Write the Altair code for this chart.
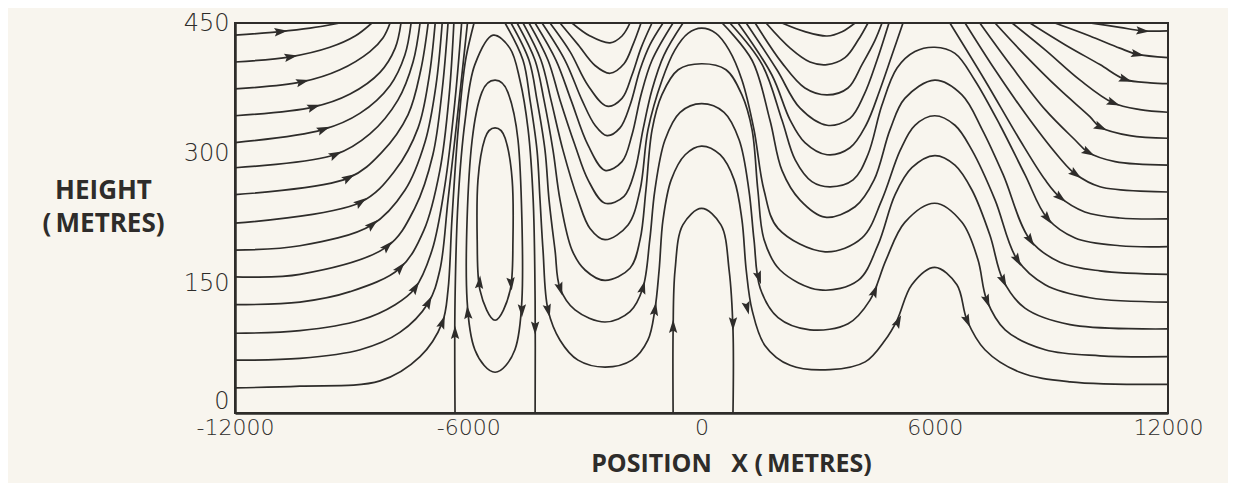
import altair as alt
import pandas as pd

# ---------------- streamlines (x in metres, height in metres) ----------------
# lines entering from the left edge and leaving through the top
L1 = [(-12000,436),(-10840,440),(-10070,444),(-9300,450)]
L2 = [(-12000,405),(-10580,411),(-9560,422),(-8910,435),(-8480,450)]
L3 = [(-12000,374),(-10280,382),(-9300,396),(-8530,417),(-8190,433),(-8010,450)]
L4 = [(-12000,343),(-9990,353),(-9040,368),(-8270,393),(-7880,421),(-7730,450)]
L5 = [(-12000,312),(-9740,327),(-8780,346),(-8010,378),(-7630,413),(-7470,450)]
L6 = [(-12000,283),(-9430,298),(-8530,322),(-7810,361),(-7420,405),(-7240,450)]
L7 = [(-12000,252),(-9090,271),(-8220,301),(-7550,344),(-7220,396),(-7030,450)]
L8 = [(-12000,219),(-8780,243),(-7880,280),(-7290,329),(-7010,387),(-6850,450)]
L9 = [(-12000,188),(-10330,193),(-8480,217),(-7630,257),(-7110,313),(-6830,378),(-6670,450)]
L10 = [(-12000,157),(-10330,160),(-8090,192),(-7370,237),(-6910,298),(-6670,373),(-6520,450)]
L11 = [(-12000,125),(-10330,128),(-9040,140),(-7760,167),(-7140,211),(-6730,280),(-6490,367),(-6370,450)]
L12 = [(-12000,92),(-10330,95),(-8780,107),(-7880,125),(-7370,144),(-6930,188),(-6600,263),(-6340,361),(-6170,450)]
L13 = [(-12000,61),(-10330,63),(-8780,73),(-7760,93),(-7030,127),(-6730,165),(-6520,246),(-6260,350),(-6020,450)]
L14 = [(-12000,29),(-10330,31),(-8270,37),(-7240,65),(-6670,104),(-6520,142),(-6420,223),(-6260,327),(-6070,407),(-5850,450)]

# dividing streamlines that meet the ground
SEP_A = [(-6340,0),(-6340,130),(-6260,246),(-6080,338),(-5830,402),(-5360,436),(-4930,421),(-4670,384),(-4460,327),(-4330,246),(-4280,130),(-4280,0)]
SEP_B = [(-730,0),(-730,96),(-680,165),(-480,217),(0,236),(500,217),(710,165),(810,96),(810,0)]

# closed loops of the cell near x = -5300
LOOP1 = [(-5310,329),(-5050,317),(-4870,269),(-4850,200),(-4920,142),(-5310,107),(-5700,142),(-5770,200),(-5750,269),(-5570,317)]
LOOP2 = [(-5310,384),(-4980,370),(-4720,315),(-4620,223),(-4620,130),(-4800,73),(-5310,47),(-5830,73),(-6030,130),(-6030,223),(-5900,315),(-5650,370)]

# troughs near x = -2400 (in and out through the top)
U1 = [(-3331,450),(-2868,435),(-2353,427),(-2045,435),(-1839,450)]
U2 = [(-3639,450),(-3176,425),(-2739,401),(-2353,392),(-1993,403),(-1762,425),(-1556,450)]
U3 = [(-3897,450),(-3382,417),(-2919,378),(-2431,354),(-2045,363),(-1788,390),(-1556,421),(-1273,450)]
U4 = [(-4102,450),(-3511,407),(-3074,361),(-2739,332),(-2431,320),(-2096,329),(-1839,355),(-1582,396),(-1325,425),(-990,450)]
U5 = [(-4282,450),(-3742,407),(-3356,361),(-2919,309),(-2482,280),(-2045,290),(-1788,321),(-1556,367),(-1273,407),(-733,450)]
U6 = [(-4437,450),(-3948,407),(-3639,361),(-3254,309),(-2919,269),(-2482,242),(-1993,250),(-1710,280),(-1505,327),(-1273,373),(-965,413),(-476,450)]

# wave lines: top -> trough -> crest at 0 -> trough -> crest at 6000 -> right edge
W1 = [(-5054,450),(-4591,407),(-4411,361),(-4231,303),(-4154,246),(-4077,188),(-3948,119),(-3639,84),(-3176,61),(-2482,53),
      (-1790,61),(-1380,84),(-1200,119),(-1090,165),(-990,223),(-780,269),(-420,298),(0,308),(480,298),(840,269),(1040,223),
      (1150,165),(1300,119),(1630,78),(2280,55),(3310,50),(4210,59),(4720,84),(5030,107),(5410,148),(6000,168),(6570,148),
      (6830,107),(7290,73),(8190,47),(9480,36),(12000,33)]
W2 = [(-4900,450),(-4437,407),(-4231,361),(-4025,303),(-3922,246),(-3768,188),(-3639,144),(-3254,119),(-2482,105),
      (-1840,117),(-1510,144),(-1330,200),(-1200,257),(-940,315),(-550,347),(0,357),(580,347),(970,315),(1220,257),(1350,200),
      (1510,144),(1970,110),(2790,96),(3770,103),(4330,130),(4750,177),(5230,220),(6000,242),(6700,220),(7110,177),(7340,130),
      (7810,96),(8840,73),(10250,66),(12000,65)]
W3 = [(-4745,450),(-4282,407),(-4051,361),(-3819,303),(-3639,246),(-3331,188),(-2996,165),(-2482,153),
      (-1840,167),(-1580,200),(-1430,257),(-1270,327),(-1020,367),(-600,396),(0,403),(630,396),(1040,367),(1300,327),(1450,257),
      (1610,200),(2020,165),(3050,142),(4030,153),(4540,194),(4980,252),(5410,283),(6000,297),(6520,286),(6960,257),(7420,205),
      (7760,153),(8320,121),(9480,102),(12000,97)]
W4 = [(-4591,450),(-4128,407),(-3871,361),(-3562,303),(-3176,246),(-2868,213),(-2482,200),
      (-1890,217),(-1582,257),(-1376,327),(-1016,384),(-682,419),(-347,438),(0,444),(373,438),(707,419),(1042,384),(1350,327),
      (1608,257),(1968,213),(3180,186),(4130,202),(4640,246),(5110,303),(5490,332),(6000,343),(6520,332),(6960,303),(7550,246),
      (8120,177),(8840,148),(9990,133),(12000,128)]

# top -> trough near 3200 -> crest at 6000 -> right edge
V1 = [(530,450),(1300,407),(1760,338),(2070,280),(2530,246),(3180,226),(3950,238),(4440,269),(4850,327),(5230,363),(6000,384),
      (6700,367),(7220,327),(7760,275),(8450,200),(9220,174),(10250,164),(12000,160)]
V2 = [(730,450),(1560,402),(2070,338),(2410,292),(2840,267),(3310,261),(3900,269),(4280,298),(4640,355),(5030,398),(5490,417),
      (6000,422),(6520,415),(7030,384),(7680,332),(8320,275),(8890,225),(9610,202),(10760,193),(12000,192)]

# troughs near x = 3200 (in and out through the top)
T5 = [(940,450),(1810,390),(2280,338),(2660,312),(3230,298),(3819,306),(4231,332),(4591,373),(4900,413),(5183,450)]
T4 = [(1150,450),(1940,396),(2530,352),(3230,332),(3819,340),(4180,367),(4514,407),(4822,450)]
T3 = [(1380,450),(2070,404),(2660,375),(3230,367),(3768,375),(4128,402),(4462,430),(4643,450)]
T2 = [(1660,450),(2280,421),(2790,405),(3230,402),(3691,410),(4025,430),(4282,450)]
T1 = [(2070,450),(2660,440),(3230,435),(3614,440),(3948,450)]

# lines entering through the top and leaving at the right edge
R1 = [(6390,450),(7290,384),(8190,315),(8840,269),(9220,249),(9860,232),(10760,225),(12000,224)]
R2 = [(6780,450),(7550,396),(8450,338),(9220,294),(9610,276),(10250,261),(12000,255)]
R3 = [(7160,450),(7940,402),(8840,350),(9610,315),(9940,301),(10640,290),(12000,286)]
R4 = [(7550,450),(8320,413),(9220,373),(9990,342),(10250,330),(11020,320),(12000,317)]
R5 = [(7990,450),(8840,419),(9740,384),(10580,358),(11280,350),(12000,347)]
R6 = [(8450,450),(9350,425),(10250,402),(10890,385),(11540,381),(12000,380)]
R7 = [(9090,450),(9990,435),(10760,421),(11200,414),(12000,410)]
R8 = [(9990,450),(10760,445),(11330,441),(12000,441)]

# arrowheads: position and direction (degrees clockwise from "up")
ARROW_X = [-10840,-10580,-10280,-9990,-9740,-9430,-9090,-8780,-8480,-8090,-7760,-7370,-7030,-6670,
           -6340,-4280,-6010,-5710,-4900,-4620,
           -3948,-3639,-1200,-1510,-730,810,1170,1470,5050,4450,
           6830,7340,7760,8120,8450,8890,9220,9610,9940,10250,10580,10890,11200,11330]
ARROW_H = [440,411,382,353,327,298,271,243,217,192,167,144,127,104,
           92,99,115,150,150,119,
           119,144,119,144,99,104,122,157,105,140,
           107,130,153,177,200,225,249,276,301,330,358,385,414,441]
ARROW_ANGLE = [84,80,76,72,68,64,60,55,50,45,40,33,27,20,
               0,180,355,5,175,180,
               167,163,9,15,0,180,166,162,26,22,
               157,159,154,150,147,142,129,126,119,115,112,108,102,95]

open_lines = [("L1",L1),("L2",L2),("L3",L3),("L4",L4),("L5",L5),("L6",L6),("L7",L7),
              ("L8",L8),("L9",L9),("L10",L10),("L11",L11),("L12",L12),("L13",L13),("L14",L14),
              ("SEP_A",SEP_A),("SEP_B",SEP_B),
              ("U1",U1),("U2",U2),("U3",U3),("U4",U4),("U5",U5),("U6",U6),
              ("W1",W1),("W2",W2),("W3",W3),("W4",W4),("V1",V1),("V2",V2),
              ("T1",T1),("T2",T2),("T3",T3),("T4",T4),("T5",T5),
              ("R1",R1),("R2",R2),("R3",R3),("R4",R4),("R5",R5),("R6",R6),("R7",R7),("R8",R8)]
closed_lines = [("LOOP1",LOOP1),("LOOP2",LOOP2)]

def to_rows(pairs):
    rows = []
    for name, pts in pairs:
        for i, (x, h) in enumerate(pts):
            rows.append({"line": name, "i": i, "x": x, "h": h})
    return pd.DataFrame(rows)

df_open = to_rows(open_lines)
df_closed = to_rows(closed_lines)
df_arrows = pd.DataFrame({"x": ARROW_X, "h": ARROW_H, "angle": ARROW_ANGLE})

INK = "#2e2c2a"
xscale = alt.Scale(domain=[-12000, 12000], nice=False, zero=False)
yscale = alt.Scale(domain=[0, 450], nice=False, zero=False)

x_axis = alt.Axis(
    values=[-12000, -6000, 0, 6000, 12000],
    labelExpr="'' + datum.value",
    title="POSITION\u00a0\u00a0\u00a0X\u00a0(\u2009METRES)",
    titleX=496, titleY=58, titleAlign="center", titleBaseline="alphabetic",
    titleFont="Open Sans", titleFontWeight="bold", titleFontSize=25, titleColor=INK,
    labelFont="DejaVu Sans", labelFontWeight=200, labelFontSize=22, labelColor=INK,
    labelPadding=4, labelFlush=False, ticks=False, grid=False,
    domainColor=INK, domainWidth=2.5,
)
y_axis = alt.Axis(
    values=[0, 150, 300, 450],
    title=["HEIGHT", "(\u2009METRES)"],
    titleAngle=0, titleX=-132, titleY=175, titleAlign="center", titleBaseline="alphabetic",
    titleLineHeight=33,
    titleFont="Open Sans", titleFontWeight="bold", titleFontSize=26, titleColor=INK,
    labelFont="DejaVu Sans", labelFontWeight=200, labelFontSize=24, labelColor=INK,
    labelPadding=6, labelFlush=False,
    labelBaseline={"condition": {"test": "datum.value == 0", "value": "bottom"}, "value": "middle"},
    ticks=False, grid=False, domainColor=INK, domainWidth=2.5,
)

lines = alt.Chart(df_open).mark_line(
    interpolate="catmull-rom", strokeWidth=1.7, color=INK, clip=True
).encode(
    x=alt.X("x:Q", scale=xscale, axis=x_axis),
    y=alt.Y("h:Q", scale=yscale, axis=y_axis),
    detail="line:N",
    order="i:Q",
)

loops = alt.Chart(df_closed).mark_line(
    interpolate="cardinal-closed", strokeWidth=1.7, color=INK, clip=True
).encode(
    x=alt.X("x:Q", scale=xscale),
    y=alt.Y("h:Q", scale=yscale),
    detail="line:N",
    order="i:Q",
)

ARROW_PATH = "M0,-1L0.55,0.75L0,0.45L-0.55,0.75Z"
arrows = alt.Chart(df_arrows).mark_point(
    shape=ARROW_PATH, size=230, filled=True, fill=INK, strokeWidth=0, opacity=1
).encode(
    x=alt.X("x:Q", scale=xscale),
    y=alt.Y("h:Q", scale=yscale),
    angle=alt.Angle("angle:Q", scale=None),
)

chart = alt.layer(lines, loops, arrows).properties(
    width=933, height=390,
    autosize=alt.AutoSizeParams(type="none"),
    padding={"left": 227, "top": 15, "right": 60, "bottom": 70},
    background="#f8f5ee",
).configure_view(
    stroke=INK, strokeWidth=2,
)

chart.save("out.html", embed_options={"renderer": "svg", "actions": False})
